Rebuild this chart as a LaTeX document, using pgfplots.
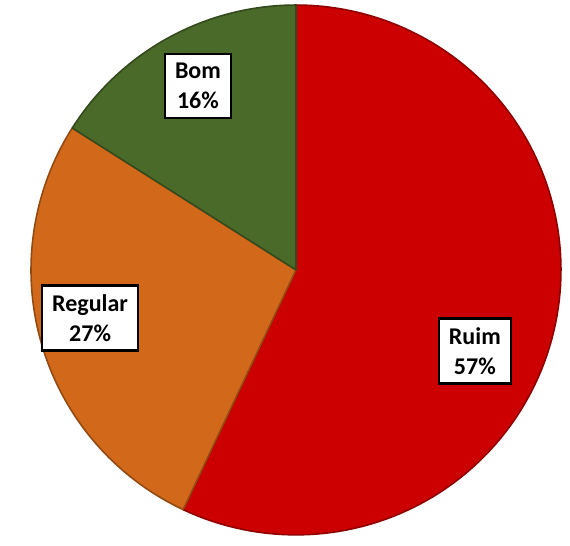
\documentclass[border=0pt]{standalone}
\usepackage{pgfplots}
\pgfplotsset{compat=1.18}
\usepackage{fontspec}
\setmainfont{Carlito}
\definecolor{cRuim}{HTML}{CC0000}
\definecolor{cReg}{HTML}{D2691A}
\definecolor{cBom}{HTML}{4A6A2A}
% values (percent)
\def\vRuim{57}
\def\vReg{27}
\def\vBom{16}
\begin{document}
\begin{tikzpicture}
\pgfmathsetmacro{\aA}{90}
\pgfmathsetmacro{\aB}{90-3.6*\vRuim}
\pgfmathsetmacro{\aC}{\aB-3.6*\vReg}
\pgfmathsetmacro{\aD}{\aC-3.6*\vBom}
\begin{axis}[
  scale only axis, width=285pt, height=273pt,
  xmin=-1.117, xmax=1.034, ymin=-1.042, ymax=1.019,
  hide axis, clip=false,
  trig format plots=deg,
]
\path (rel axis cs:0,0) rectangle (rel axis cs:1,1);
\addplot[fill=cRuim, draw=cRuim!70!black, line width=0.8pt, domain=\aB:\aA, samples=120, line join=round]
  ({cos(x)},{sin(x)}) -- (axis cs:0,0) -- cycle;
\addplot[fill=cReg, draw=cReg!70!black, line width=0.8pt, domain=\aC:\aB, samples=80, line join=round]
  ({cos(x)},{sin(x)}) -- (axis cs:0,0) -- cycle;
\addplot[fill=cBom, draw=cBom!70!black, line width=0.8pt, domain=\aD:\aC, samples=60, line join=round]
  ({cos(x)},{sin(x)}) -- (axis cs:0,0) -- cycle;
\tikzset{lbl/.style={draw=black, line width=1.2pt, fill=white, align=center, font=\bfseries\fontsize{12}{15}\selectfont, inner xsep=5pt, inner ysep=4.5pt}}
\node[lbl] at (axis cs:-0.370,0.694) {Bom\\16\%};
\node[lbl] at (axis cs:-0.777,-0.181) {Regular\\27\%};
\node[lbl] at (axis cs:0.675,-0.306) {Ruim\\57\%};
\end{axis}
\end{tikzpicture}
\end{document}
